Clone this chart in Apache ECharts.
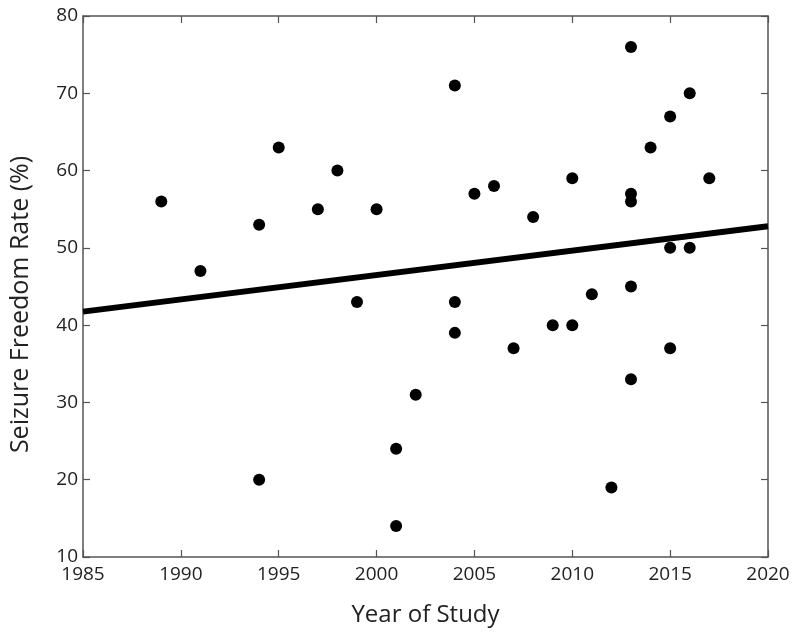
<!DOCTYPE html>
<html>
<head>
<meta charset="utf-8">
<script src="https://cdn.jsdelivr.net/npm/echarts@6/dist/echarts.min.js"></script>
<style>
  html, body { margin: 0; padding: 0; background: #fff; }
  #chart { width: 800px; height: 640px; }
</style>
</head>
<body>
<div id="chart"></div>
<script>
// study year / seizure freedom rate (%)
var years = [1989, 1991, 1994, 1994, 1995, 1997, 1998, 1999, 2000, 2001, 2001, 2002,
             2004, 2004, 2004, 2005, 2006, 2007, 2008, 2009, 2010, 2010, 2011, 2012,
             2013, 2013, 2013, 2013, 2013, 2014, 2015, 2015, 2015, 2016, 2016, 2017];
var rates = [56, 47, 53, 20, 63, 55, 60, 43, 55, 24, 14, 31,
             71, 43, 39, 57, 58, 37, 54, 40, 59, 40, 44, 19,
             76, 57, 56, 45, 33, 63, 67, 50, 37, 70, 50, 59];
// fitted trend line end points
var trendYears = [1985, 2020];
var trendRates = [41.75, 52.8];

var xTicks = [1985, 1990, 1995, 2000, 2005, 2010, 2015, 2020];
var yTicks = [10, 20, 30, 40, 50, 60, 70, 80];

var points = years.map(function (y, i) { return [y, rates[i]]; });
var trend = trendYears.map(function (y, i) { return [y, trendRates[i]]; });

var font = '"Open Sans", sans-serif';
var axisColor = '#555';

function frameAxis(extra) {
  var base = {
    type: 'value',
    axisLine: { show: true, lineStyle: { color: axisColor, width: 1.5 } },
    axisTick: { show: true, inside: true, length: 7, lineStyle: { color: axisColor, width: 1.2 } },
    splitLine: { show: false }
  };
  return Object.assign(base, extra);
}

var chart = echarts.init(document.getElementById('chart'));
chart.setOption({
  backgroundColor: '#fff',
  animation: false,
  grid: { left: 82, right: 32, top: 16, bottom: 83 },
  xAxis: [
    frameAxis({
      position: 'bottom', min: xTicks[0], max: xTicks[xTicks.length - 1], interval: 5,
      name: 'Year of Study', nameLocation: 'middle', nameGap: 46,
      nameTextStyle: { fontFamily: font, fontSize: 24, color: '#222' },
      axisLabel: { fontFamily: font, fontSize: 19, color: '#222', margin: 8,
                   formatter: function (v) { return String(v); } }
    }),
    frameAxis({
      position: 'top', min: xTicks[0], max: xTicks[xTicks.length - 1], interval: 5,
      axisLabel: { show: false }
    })
  ],
  yAxis: [
    frameAxis({
      position: 'left', min: yTicks[0], max: yTicks[yTicks.length - 1], interval: 10,
      name: 'Seizure Freedom Rate (%)', nameLocation: 'middle', nameGap: 50,
      // title sits a bit below the plot centre in the original
      nameTextStyle: { fontFamily: font, fontSize: 25, color: '#222', padding: [0, 36, 0, 0] },
      axisLabel: { fontFamily: font, fontSize: 19, color: '#222', margin: 5 }
    }),
    frameAxis({
      position: 'right', min: yTicks[0], max: yTicks[yTicks.length - 1], interval: 10,
      axisLabel: { show: false }
    })
  ],
  series: [
    {
      type: 'line',
      data: trend,
      showSymbol: false,
      lineStyle: { color: '#000', width: 6 },
      z: 2
    },
    {
      type: 'scatter',
      data: points,
      symbolSize: 12,
      itemStyle: { color: '#000', opacity: 1 },
      z: 3
    }
  ]
});
</script>
</body>
</html>
